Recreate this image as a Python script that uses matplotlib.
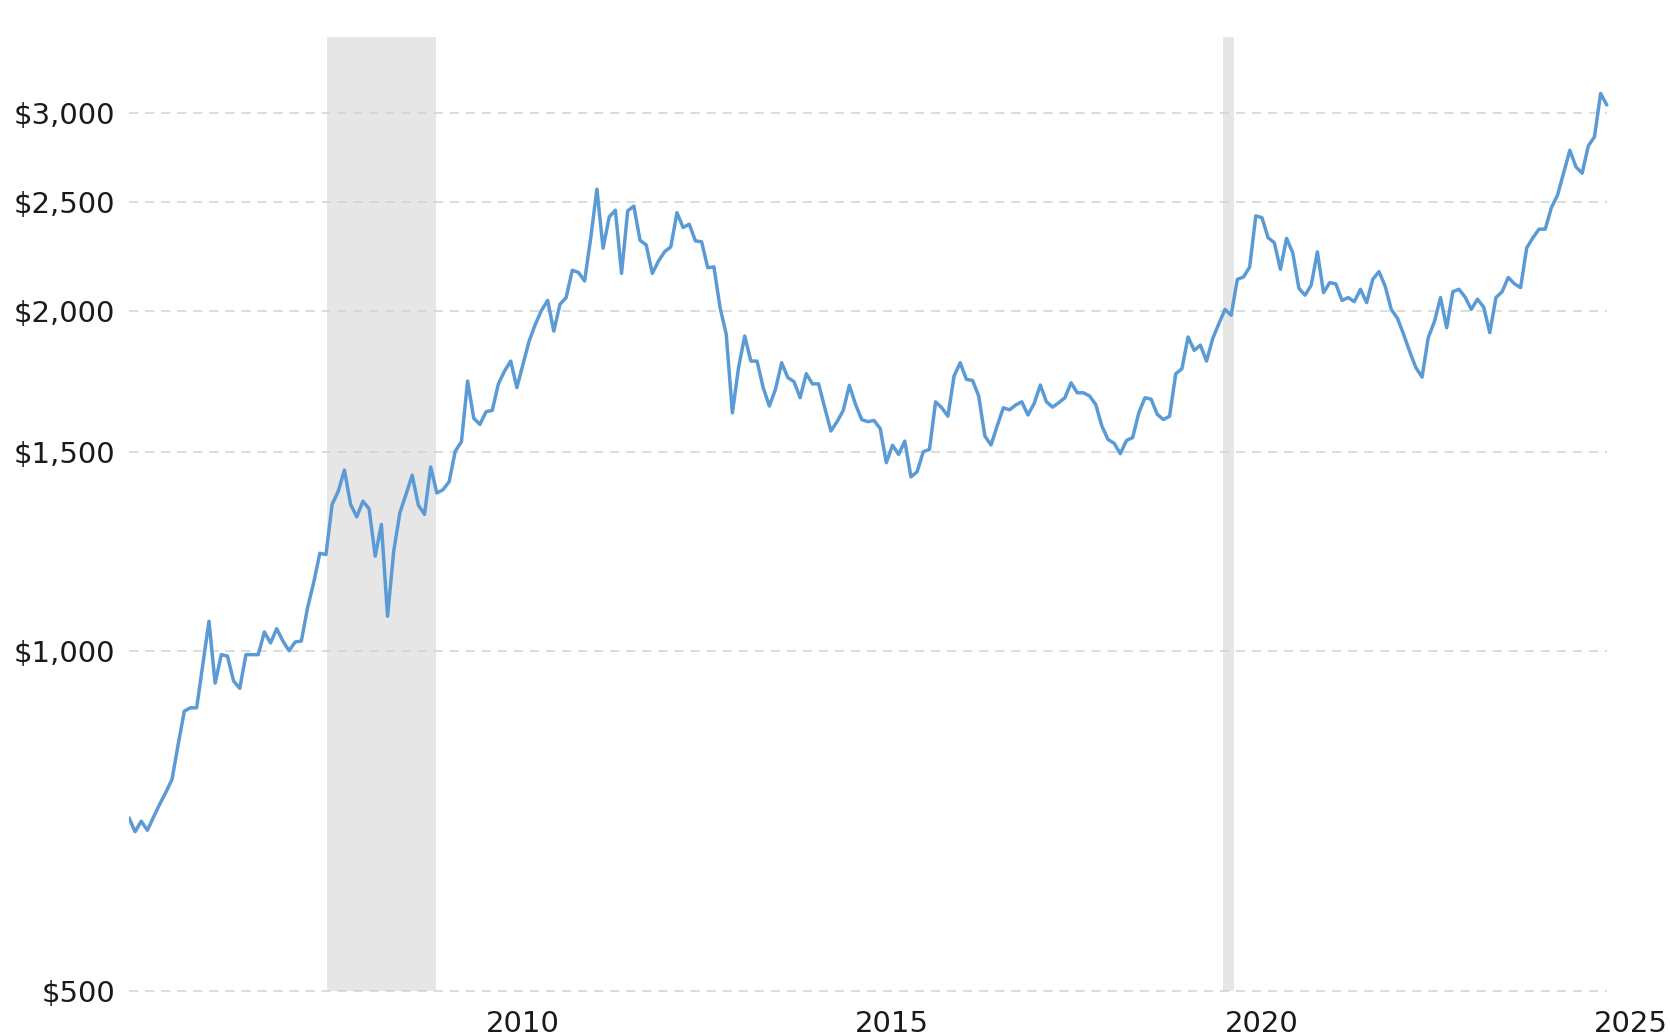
import matplotlib.pyplot as plt
from matplotlib.ticker import FixedLocator, NullLocator, FuncFormatter
import numpy as np

# monthly gold price (USD/oz), first point is late 2004
start_year = 2004.67
price = [
    712, 692, 707, 694, 713, 732, 750, 770, 827, 885, 891, 891, 973, 1063, 937,
    993, 990, 941, 927, 993, 993, 993, 1040, 1017, 1047, 1021, 1001, 1019, 1021,
    1092, 1150, 1221, 1218, 1349, 1386, 1447, 1349, 1315, 1358, 1337, 1214,
    1295, 1074, 1226, 1326, 1377, 1432, 1347, 1322, 1456, 1381, 1390, 1413, 1504,
    1533, 1735, 1608, 1588, 1630, 1634, 1725, 1771, 1807, 1712, 1795, 1883, 1948,
    2004, 2045, 1921, 2029, 2057, 2175, 2165, 2128,
    2324, 2566, 2275, 2425, 2458, 2161, 2455, 2479, 2312, 2290, 2161, 2216, 2259,
    2281, 2446, 2373, 2389, 2309, 2305, 2186, 2190, 2015, 1909, 1626, 1783, 1902,
    1807, 1807, 1712, 1649, 1706, 1801, 1747, 1733, 1677, 1761, 1725, 1725, 1643,
    1567, 1597, 1634, 1720, 1654, 1604, 1597,
    1601, 1575, 1469, 1522, 1494, 1535, 1427, 1442, 1502, 1509, 1663, 1643, 1615,
    1753, 1801, 1741, 1737, 1683, 1551, 1523, 1583, 1643, 1636, 1652, 1663, 1619,
    1657, 1721, 1663, 1645, 1660, 1677, 1729, 1694, 1694, 1683, 1654, 1583, 1540,
    1528, 1496, 1537, 1546, 1626, 1677, 1672, 1621, 1604, 1615, 1761, 1779, 1898,
    1847, 1867, 1807, 1892, 1950, 2008, 1984, 2135, 2145, 2189, 2430, 2421, 2324,
    2301, 2179, 2321, 2254, 2096, 2067, 2110, 2258, 2078, 2121, 2115, 2045, 2057,
    2040, 2092,
    2036, 2135, 2169, 2106, 2008, 1972, 1909, 1842, 1783, 1749, 1895, 1958, 2057,
    1934, 2082, 2092, 2059, 2008, 2050, 2018, 1915, 2057, 2082, 2143, 2116, 2099,
    2277, 2324, 2365, 2365, 2471, 2535, 2654, 2778, 2685, 2651, 2803, 2855, 3119,
    3047,
]

# shaded recession bands
recessions = [(2007.35, 2008.83), (2019.48, 2019.63)]

year_ticks = [2010, 2015, 2020, 2025]
price_ticks = [500, 1000, 1500, 2000, 2500, 3000]

years = start_year + np.arange(len(price)) / 12

fig = plt.figure(figsize=(16.7, 10.36), dpi=100)
ax = fig.add_axes([0.0772, 0.0434, 0.9084, 0.9209])

ax.set_yscale('log')
ax.set_ylim(500, 3500)
ax.set_xlim(years[0], 2025.2)

for a, b in recessions:
    ax.axvspan(a, b, color='#e6e6e6', lw=0, zorder=0)

# dashed grid only over the span of the data
ax.hlines(price_ticks, years[0], years[-1], colors='#d2d2d2',
          linestyles=(0, (6, 4.5)), linewidth=1.1, zorder=1, clip_on=False)

ax.plot(years, price, color='#5b9bd5', lw=2.5, zorder=3,
        solid_joinstyle='round', solid_capstyle='round')

ax.yaxis.set_major_locator(FixedLocator(price_ticks))
ax.yaxis.set_minor_locator(NullLocator())
ax.yaxis.set_major_formatter(FuncFormatter(lambda v, p: '${:,.0f}'.format(v)))
ax.xaxis.set_major_locator(FixedLocator(year_ticks))
ax.xaxis.set_major_formatter(FuncFormatter(lambda v, p: '%d' % v))

ax.tick_params(axis='both', length=0, labelsize=21, labelcolor='#1a1a1a')
ax.tick_params(axis='y', pad=10)
ax.tick_params(axis='x', pad=13.5)

for s in ax.spines.values():
    s.set_visible(False)

fig.savefig('out.png', dpi=100)
